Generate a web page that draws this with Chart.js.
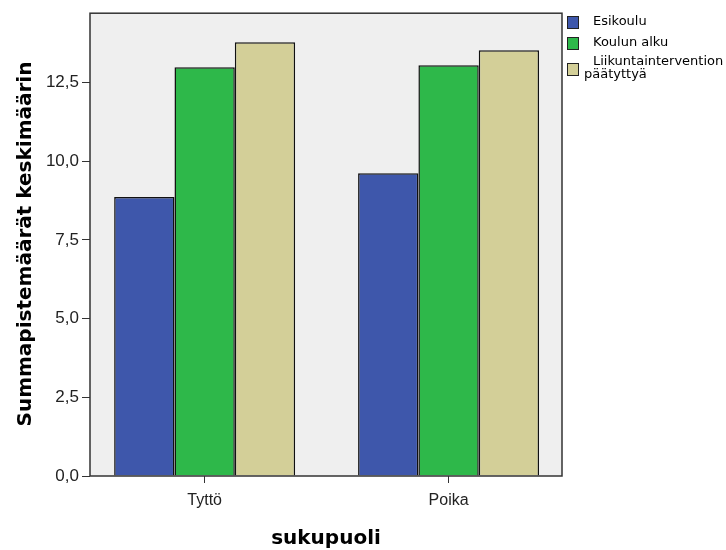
<!DOCTYPE html>
<html>
<head>
<meta charset="utf-8">
<script src="https://cdn.jsdelivr.net/npm/chart.js@4"></script>
<style>
  html, body { margin: 0; padding: 0; background: #fff; }
  #wrap { width: 726px; height: 550px; }
</style>
</head>
<body>
<div id="wrap"><canvas id="chart" width="726" height="550"></canvas></div>
<script>
const categories = ['Tyttö', 'Poika'];
const seriesNames = ['Esikoulu', 'Koulun alku', ['Liikuntaintervention', 'päätyttyä']];
const esikoulu = [8.86, 9.62];
const koulunAlku = [12.98, 13.05];
const liikunta = [13.78, 13.52];
const yTicks = [0, 2.5, 5, 7.5, 10, 12.5];
const colors = ['#3e57ab', '#2eb84a', '#d3cf98'];

// draws plot frame, axis titles and the legend
const decorations = {
  id: 'decorations',
  beforeDatasetsDraw(chart) {
    const { ctx, chartArea: a } = chart;
    ctx.save();
    ctx.fillStyle = '#efefef';
    ctx.fillRect(a.left, a.top, a.right - a.left, a.bottom - a.top);
    ctx.restore();
  },
  afterDraw(chart) {
    const { ctx, chartArea: a } = chart;
    ctx.save();
    ctx.strokeStyle = '#333';
    ctx.lineWidth = 1.5;
    ctx.strokeRect(a.left, a.top, a.right - a.left, a.bottom - a.top);

    // axis titles
    ctx.fillStyle = '#000';
    ctx.font = 'bold 20px "DejaVu Sans"';
    ctx.textAlign = 'center';
    ctx.textBaseline = 'middle';
    ctx.fillText('sukupuoli', (a.left + a.right) / 2, 539);
    ctx.translate(26, 244);
    ctx.rotate(-Math.PI / 2);
    ctx.fillText('Summapistemäärät keskimäärin', 0, 0);
    ctx.restore();

    // legend
    ctx.save();
    ctx.font = '13px "DejaVu Sans"';
    ctx.textAlign = 'left';
    ctx.textBaseline = 'middle';
    const rows = [22, 43, 62];
    seriesNames.forEach((name, i) => {
      const lines = Array.isArray(name) ? name : [name];
      const y = rows[i];
      const boxY = lines.length > 1 ? y + 1 : y - 6;
      ctx.fillStyle = colors[i];
      ctx.fillRect(567, boxY, 12, 13);
      ctx.strokeStyle = '#222';
      ctx.lineWidth = 1;
      ctx.strokeRect(567.5, boxY + 0.5, 11, 12);
      ctx.fillStyle = '#000';
      lines.forEach((ln, j) => {
        ctx.fillText(ln, j === 0 ? 593 : 584, y + j * 13);
      });
    });
    ctx.restore();
  }
};

const makeSet = (label, data, color) => ({
  label: Array.isArray(label) ? label.join(' ') : label,
  data: data.map((v, i) => ({ x: i, y: v })),
  backgroundColor: color,
  borderColor: '#111',
  borderWidth: 1.5,
  categoryPercentage: 0.742,
  barPercentage: 1
});

new Chart(document.getElementById('chart'), {
  type: 'bar',
  data: {
    datasets: [
      makeSet(seriesNames[0], esikoulu, colors[0]),
      makeSet(seriesNames[1], koulunAlku, colors[1]),
      makeSet(seriesNames[2], liikunta, colors[2])
    ]
  },
  options: {
    responsive: false,
    animation: false,
    layout: { padding: { top: 13, right: 164, left: 0, bottom: 0 } },
    plugins: { legend: { display: false }, tooltip: { enabled: false } },
    scales: {
      x: {
        type: 'linear',
        min: -0.47,
        max: 1.465,
        offset: false,
        grid: { drawOnChartArea: false, offset: false, tickLength: 7, color: '#333' },
        border: { display: false },
        afterBuildTicks(scale) { scale.ticks = categories.map((c, i) => ({ value: i })); },
        ticks: {
          color: '#222',
          font: { family: 'Liberation Sans', size: 16 },
          padding: 8,
          callback: v => categories[v]
        },
        afterFit(scale) { scale.height = 74; }
      },
      y: {
        min: 0,
        max: 14.7,
        grid: { drawOnChartArea: false, tickLength: 8, color: '#333' },
        border: { display: false },
        afterBuildTicks(scale) { scale.ticks = yTicks.map(v => ({ value: v })); },
        ticks: {
          color: '#222',
          font: { family: 'Liberation Sans', size: 17 },
          padding: 3,
          callback: v => v.toFixed(1).replace('.', ',')
        },
        afterFit(scale) { scale.width = 90; }
      }
    }
  },
  plugins: [decorations]
});
</script>
</body>
</html>
